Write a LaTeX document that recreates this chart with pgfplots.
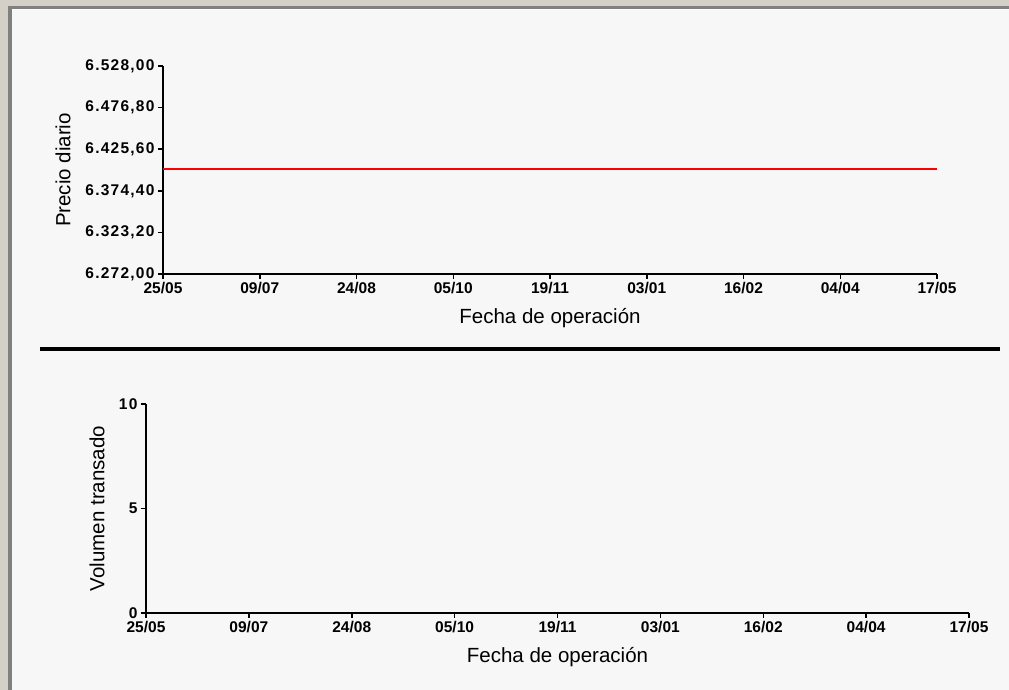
\documentclass[border=0pt]{standalone}
\usepackage{fontspec}
\setmainfont{Liberation Sans}
\usepackage{pgfplots}
\pgfplotsset{compat=1.18}
\definecolor{bgc}{RGB}{247,247,247}
\definecolor{frl}{RGB}{212,208,200}
\definecolor{frd}{RGB}{128,128,128}
\newcommand{\tickf}{\fontsize{15.5}{18}\selectfont\bfseries}
\newcommand{\ytickf}{\fontsize{15.5}{18}\selectfont\bfseries\addfontfeatures{LetterSpace=8}}
\newcommand{\labf}{\fontsize{20.5}{24}\selectfont}
\pgfplotsset{
  chartstyle/.style={
    scale only axis,
    axis lines=left,
    axis line style={-, line width=2pt, black},
    tick align=outside,
    major tick length=5pt,
    tick style={black, line width=1.5pt},
    xmin=0, xmax=8,
    xtick={0,1,2,3,4,5,6,7,8},
    xticklabels={25/05,09/07,24/08,05/10,19/11,03/01,16/02,04/04,17/05},
    xticklabel style={font=\tickf},
    yticklabel style={font=\ytickf},
    xlabel={Fecha de operación},
    every axis x label/.style={at={(axis description cs:0.5,-0.211)}, anchor=center, font=\labf},
  }
}
\begin{document}
\begin{tikzpicture}[x=1pt,y=1pt]
\useasboundingbox (0,0) rectangle (1009,690);
\fill[bgc] (0,0) rectangle (1009,690);
% window frame
\fill[frl] (0,684) rectangle (1009,690);
\fill[frl] (0,0) rectangle (8,690);
\fill[frd] (8,681) rectangle (1009,684);
\fill[frd] (8,0) rectangle (12,684);
\fill[white] (12,680) rectangle (1009,681);
% separator
\fill[black] (40,339) rectangle (1000,343);

\begin{axis}[chartstyle,
  at={(163pt,416pt)}, anchor=south west,
  width=774pt, height=208pt,
  ymin=6272, ymax=6528,
  ytick={6272,6323.2,6374.4,6425.6,6476.8,6528},
  yticklabel style={/pgf/number format/.cd, fixed, fixed zerofill, precision=2, use comma, assume math mode=true},
  ylabel={Precio diario},
  every axis y label/.style={at={(axis description cs:-0.129,0.5)}, rotate=90, anchor=center, font=\labf},
]
\addplot[red, line width=1.8pt] coordinates {(0,6401) (8,6401)};
\end{axis}

\begin{axis}[chartstyle,
  at={(146pt,77pt)}, anchor=south west,
  width=823pt, height=209pt,
  ymin=0, ymax=10,
  ytick={0,5,10},
  yticklabel style={/pgf/number format/assume math mode=true},
  ylabel={Volumen transado},
  every axis y label/.style={at={(axis description cs:-0.0595,0.5)}, rotate=90, anchor=center, font=\labf},
]
\addplot[draw=none] coordinates {(0,0) (8,0)};
\end{axis}
\end{tikzpicture}
\end{document}
